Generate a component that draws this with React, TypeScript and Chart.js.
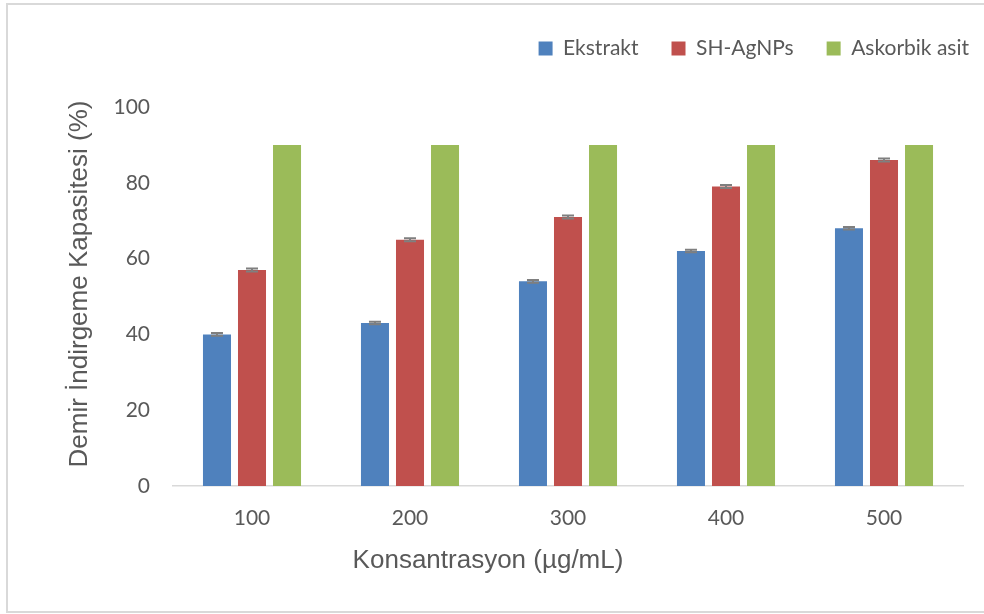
import React, { useEffect, useRef } from "react";
import { Chart, registerables } from "chart.js";

Chart.register(...registerables);

const categories = ["100", "200", "300", "400", "500"];
const ekstrakt = [40, 43, 54, 62, 68];
const shAgNPs = [57, 65, 71, 79, 86];
const askorbik = [90, 90, 90, 90, 90];
const ekstraktErr = [0.35, 0.35, 0.35, 0.35, 0.35];
const shAgNPsErr = [0.4, 0.4, 0.4, 0.4, 0.4];
const askorbikErr = [0, 0, 0, 0, 0];
const yTicks = [0, 20, 40, 60, 80, 100];

const seriesNames = ["Ekstrakt", "SH-AgNPs", "Askorbik asit"];
const colors = ["#4F81BD", "#C0504D", "#9BBB59"];
const xTitle = "Konsantrasyon (µg/mL)";
const yTitle = "Demir İndirgeme Kapasitesi (%)";

const TEXT = "#595959";

const frame = {
  id: "frame",
  afterDraw(chart: any) {
    const ctx = chart.ctx;
    ctx.save();
    ctx.strokeStyle = "#d9d9d9";
    ctx.lineWidth = 2;
    ctx.strokeRect(7, 4, 990, 608);
    ctx.restore();
  },
};

const axisTitles = {
  id: "axisTitles",
  afterDraw(chart: any) {
    const ctx = chart.ctx;
    ctx.save();
    ctx.fillStyle = TEXT;
    ctx.font = "26px 'Liberation Sans'";
    ctx.textAlign = "center";
    ctx.textBaseline = "alphabetic";
    ctx.fillText(xTitle, 488, 568);
    ctx.translate(87, 284);
    ctx.rotate(-Math.PI / 2);
    ctx.fillText(yTitle, 0, 0);
    ctx.restore();
  },
};

const legendFix = {
  id: "legendFix",
  beforeLayout(chart: any) {
    const lg = chart.legend;
    if (lg && !lg.__wrapped) {
      const orig = lg.fit.bind(lg);
      lg.fit = function () {
        orig();
        this.height = 99;
      };
      lg.__wrapped = true;
    }
  },
  afterLayout(chart: any) {
    const lg = chart.legend;
    if (!lg) return;
    lg.top = 5;
    lg.bottom = 104;
    lg.right = 1002;
    lg.width = lg.right - lg.left;
  },
};

const errorBars = {
  id: "errorBars",
  afterDatasetsDraw(chart: any) {
    const ctx = chart.ctx;
    const y = chart.scales.y;
    ctx.save();
    ctx.strokeStyle = "#7f7f7f";
    ctx.lineWidth = 2;
    chart.data.datasets.forEach((ds: any, di: number) => {
      const meta = chart.getDatasetMeta(di);
      const errs: number[] = ds.errors || [];
      meta.data.forEach((bar: any, i: number) => {
        const e = errs[i];
        if (!e) return;
        const v = ds.data[i];
        const yt = y.getPixelForValue(v + e);
        const yb = y.getPixelForValue(v - e);
        const half = 6;
        ctx.beginPath();
        ctx.moveTo(bar.x, yt);
        ctx.lineTo(bar.x, yb);
        ctx.moveTo(bar.x - half, yt);
        ctx.lineTo(bar.x + half, yt);
        ctx.moveTo(bar.x - half, yb);
        ctx.lineTo(bar.x + half, yb);
        ctx.stroke();
      });
    });
    ctx.restore();
  },
};

export default function App() {
  const ref = useRef<HTMLCanvasElement | null>(null);
  useEffect(() => {
    if (!ref.current) return;
    const values = [ekstrakt, shAgNPs, askorbik];
    const errs = [ekstraktErr, shAgNPsErr, askorbikErr];
    const chart = new Chart(ref.current, {
      type: "bar",
      data: {
        labels: categories,
        datasets: seriesNames.map((n, i) => ({
          label: n,
          data: values[i],
          errors: errs[i],
          backgroundColor: colors[i],
          borderWidth: 0,
          categoryPercentage: 0.665,
          barPercentage: 0.8,
        })) as any,
      },
      options: {
        animation: false,
        responsive: false,
        maintainAspectRatio: false,
        layout: { padding: { left: 65, right: 21, top: 8, bottom: 46 } },
        plugins: {
          tooltip: { enabled: false },
          legend: {
            position: "top",
            align: "end",
            labels: {
              boxWidth: 14,
              boxHeight: 14,
              padding: 33,
              color: TEXT,
              font: { family: "Lato", size: 21 },
            },
          },
        },
        scales: {
          x: {
            grid: { display: false, drawTicks: false },
            border: { display: true, color: "#d9d9d9", width: 1.5 },
            ticks: {
              color: TEXT,
              padding: 20,
              font: { family: "Lato", size: 21 },
            },
            title: { display: false },
            afterFit(scale: any) {
              scale.height = 82;
            },
          },
          y: {
            min: 0,
            max: 100,
            afterBuildTicks(scale: any) {
              scale.ticks = yTicks.map((v) => ({ value: v }));
            },
            grid: { display: false, drawTicks: false },
            border: { display: false },
            ticks: {
              color: TEXT,
              padding: 23,
              font: { family: "Lato", size: 21 },
            },
            title: { display: false },
            afterFit(scale: any) {
              scale.width = 108;
            },
          },
        },
      },
      plugins: [legendFix, errorBars, axisTitles, frame],
    });
    return () => chart.destroy();
  }, []);
  return (
    <div style={{ position: "absolute", left: 0, top: 0, width: 984, height: 614, background: "#fff" }}>
      <canvas ref={ref} width={984} height={614} style={{ width: 984, height: 614, display: "block" }} />
    </div>
  );
}
